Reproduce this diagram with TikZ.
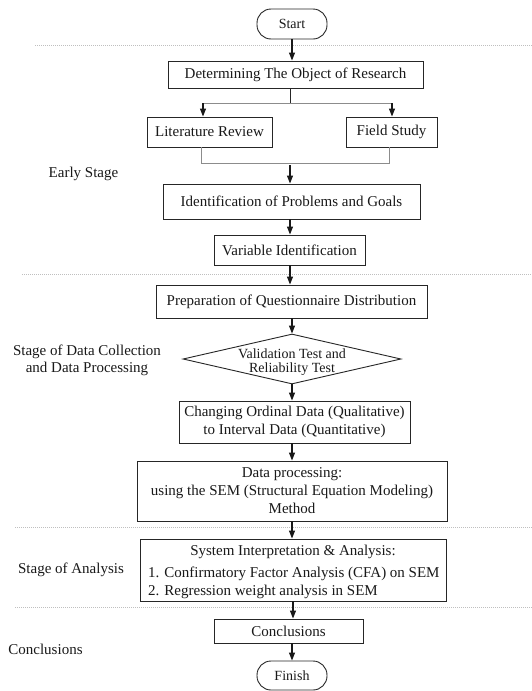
\documentclass[tikz,border=0pt]{standalone}
\usepackage{fontspec}
\setmainfont{Liberation Serif}
\usetikzlibrary{shapes.geometric,arrows.meta}
\begin{document}
\begin{tikzpicture}[x=1pt,y=-1pt,
  box/.style={draw=black!85, line width=0.9pt, inner sep=0pt, font=\fontsize{15}{18}\selectfont, align=center, text=black!90},
  pill/.style={draw=black!85, line width=0.9pt, rounded corners=14pt, inner sep=0pt, font=\fontsize{14}{16}\selectfont, text=black!90},
  arr/.style={-{Triangle[width=6pt,length=8pt]}, line width=1.1pt, draw=black!90},
  conn/.style={line width=1pt, draw=black!85},
  gline/.style={line width=0.7pt, draw=black!45},
  sep/.style={line width=0.8pt, draw=black!25, dash pattern=on 1pt off 1pt},
  lbl/.style={font=\fontsize{15}{17}\selectfont, align=center, inner sep=0pt, text=black!90}]
\useasboundingbox (0,0) rectangle (532,691);
\fill[white] (0,0) rectangle (532,691);

% separators
\draw[sep] (35,45) -- (532,45);
\draw[sep] (22,274) -- (532,274);
\draw[sep] (15,527) -- (532,527);
\draw[sep] (15,607) -- (532,607);

% stage labels
\node[lbl] (l1) at (83.5,174) {Early Stage};
\node[lbl] (l2) at (87,360.5) {Stage of Data Collection\\and Data Processing};
\node[lbl] (l3) at (71,570) {Stage of Analysis};
\node[lbl] (l4) at (45.5,649) {Conclusions};

% nodes
\node[pill, minimum width=70pt, minimum height=30pt] (start) at (292,24) {Start};
\node[box, minimum width=255pt, minimum height=27pt] (det) at (295.5,74.5) {Determining The Object of Research};
\node[box, minimum width=125pt, minimum height=30pt] (lit) at (209.5,132) {Literature Review};
\node[box, minimum width=91pt, minimum height=30pt] (field) at (391.5,132) {Field Study};
\node[box, minimum width=257pt, minimum height=35pt] (ident) at (291.5,201.5) {Identification of Problems and Goals};
\node[box, minimum width=151pt, minimum height=30pt] (var) at (289.5,250) {Variable Identification};
\node[box, minimum width=271pt, minimum height=33pt] (prep) at (291.5,301.5) {Preparation of Questionnaire Distribution};
\node[draw=black!85, line width=0.9pt, diamond, inner sep=0pt, minimum width=218pt, minimum height=50pt] (val) at (292,359) {};
\node[font=\fontsize{14}{14}\selectfont, align=center, inner sep=0pt, text=black!90] (valtxt) at (292,362) {Validation Test and\\Reliability Test};
\node[box, minimum width=231pt, minimum height=42pt] (chg) at (294.5,422) {Changing Ordinal Data (Qualitative)\\to Interval Data (Quantitative)};
\node[box, minimum width=310pt, minimum height=60pt] (dp) at (292,491) {Data processing:\\using the SEM (Structural Equation Modeling)\\Method};
\node[box, minimum width=306pt, minimum height=62pt] (sys) at (293,570) {};
\node[lbl] (systitle) at (293,552) {System Interpretation \& Analysis:};
\node[lbl, align=left, font=\fontsize{15}{18}\selectfont, anchor=west] (sysitems) at (148,583) {1. Confirmatory Factor Analysis (CFA) on SEM\\2. Regression weight analysis in SEM};
\node[box, minimum width=149pt, minimum height=24pt] (conc) at (288.5,631) {Conclusions};
\node[pill, minimum width=70pt, minimum height=29pt] (fin) at (292,675.5) {Finish};

% connectors
\draw[arr] (start.south) -- (start.south |- det.north);
\coordinate (split) at (290,103);
\draw[conn] (split |- det.south) -- (split);
\coordinate (sl) at (203,103);
\coordinate (sr) at (392,103);
\draw[gline] (sl) -- (sr);
\draw[arr] (sl) -- (sl |- lit.north);
\draw[arr] (sr) -- (sr |- field.north);
\coordinate (jl) at (201,163);
\coordinate (jr) at (389,163);
\draw[gline] (jl |- lit.south) -- (jl) -- (jr) -- (jr |- field.south);
\coordinate (jm) at (290,165);
\draw[arr] (jm) -- (jm |- ident.north);
\draw[arr] (jm |- ident.south) -- (jm |- var.north);
\draw[arr] (jm |- var.south) -- (jm |- prep.north);
\draw[arr] (val.north |- prep.south) -- (val.north);
\draw[arr] (val.south) -- (val.south |- chg.north);
\draw[arr] (dp.north |- chg.south) -- (dp.north);
\draw[arr] (dp.south) -- (dp.south |- sys.north);
\draw[arr] (sys.south) -- (sys.south |- conc.north);
\draw[arr] (fin.north |- conc.south) -- (fin.north);
\end{tikzpicture}
\end{document}
